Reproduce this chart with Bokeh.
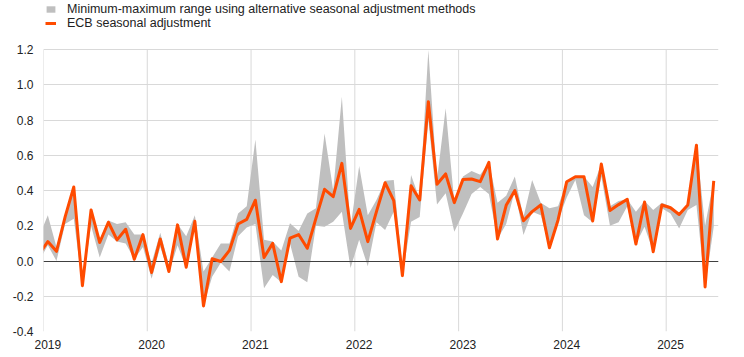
import numpy as np
from bokeh.plotting import figure
from bokeh.models import (Range1d, FixedTicker, Legend, LegendItem)
from bokeh.embed import file_html
from bokeh.resources import INLINE

# Monthly values, Dec 2018 .. Jun 2025 (first point lies just left of the axis start)
first_month = "2018-12"
ecb = [0.04, 0.11, 0.055, 0.25, 0.42, -0.14, 0.29, 0.105, 0.22, 0.12, 0.18, 0.01, 0.15,
       -0.065, 0.125, -0.06, 0.205, -0.035, 0.225, -0.255, 0.013, -0.003, 0.06, 0.21, 0.236,
       0.345, 0.02, 0.10, -0.117, 0.13, 0.15, 0.072, 0.242, 0.407, 0.365, 0.554, 0.185,
       0.293, 0.11, 0.28, 0.444, 0.342, -0.083, 0.427, 0.346, 0.904, 0.435, 0.494, 0.331,
       0.463, 0.465, 0.45, 0.56, 0.125, 0.316, 0.40, 0.228, 0.28, 0.318, 0.075, 0.233,
       0.45, 0.478, 0.478, 0.227, 0.55, 0.286, 0.32, 0.35, 0.096, 0.335, 0.052, 0.318,
       0.302, 0.264, 0.318, 0.657, -0.147, 0.455]
range_min = [0.00, 0.09, 0.00, 0.21, 0.24, -0.14, 0.20, 0.02, 0.15, 0.11, 0.10, 0.01, 0.08,
             -0.10, 0.08, -0.07, 0.09, -0.04, 0.20, -0.255, -0.09, -0.01, -0.06, 0.14, 0.19,
             0.21, -0.155, -0.08, -0.12, 0.10, -0.09, -0.12, 0.20, 0.195, 0.223, 0.28, -0.04,
             0.12, -0.03, 0.22, 0.176, 0.28, -0.083, 0.223, 0.25, 0.80, 0.32, 0.384, 0.166,
             0.27, 0.38, 0.42, 0.38, 0.125, 0.21, 0.40, 0.147, 0.28, 0.26, 0.075, 0.23,
             0.36, 0.46, 0.26, 0.22, 0.48, 0.20, 0.22, 0.31, 0.096, 0.195, 0.052, 0.30,
             0.27, 0.185, 0.29, 0.318, -0.147, 0.195]
range_max = [0.14, 0.26, 0.08, 0.26, 0.42, -0.11, 0.29, 0.12, 0.23, 0.21, 0.22, 0.15, 0.15,
             -0.01, 0.16, -0.02, 0.21, 0.14, 0.26, -0.06, 0.02, 0.10, 0.10, 0.27, 0.31,
             0.69, 0.12, 0.11, 0.06, 0.214, 0.17, 0.27, 0.30, 0.724, 0.40, 0.932, 0.19,
             0.539, 0.26, 0.346, 0.455, 0.46, -0.04, 0.488, 0.35, 1.197, 0.46, 0.866, 0.335,
             0.48, 0.51, 0.49, 0.56, 0.33, 0.37, 0.48, 0.25, 0.46, 0.33, 0.30, 0.31,
             0.45, 0.48, 0.48, 0.42, 0.55, 0.31, 0.34, 0.35, 0.28, 0.34, 0.29, 0.33,
             0.31, 0.27, 0.32, 0.66, 0.20, 0.46]
years = ["2019", "2020", "2021", "2022", "2023", "2024", "2025"]
y_ticks = [-0.4, -0.2, 0.0, 0.2, 0.4, 0.6, 0.8, 1.0, 1.2]

legend_band = "Minimum-maximum range using alternative seasonal adjustment methods"
legend_line = "ECB seasonal adjustment"

# month index: 0 = Jan 2019 (data plotted mid-month)
x = np.arange(len(ecb)) - 1

FONT = "Liberation Sans"
TXT = "#222222"
GRID = "#d9d9d9"

# extra headroom above the top tick holds the legend
px_per_unit = 176.25
top_space = 49
p = figure(width=736, height=357, output_backend="svg", toolbar_location=None,
           x_range=Range1d(-0.5, 77.55),
           y_range=Range1d(y_ticks[0], y_ticks[-1] + top_space / px_per_unit),
           min_border_left=43, min_border_right=18, min_border_top=0, min_border_bottom=26)
p.outline_line_color = None
p.background_fill_color = "white"
p.border_fill_color = "white"

year_pos = [12 * i for i in range(len(years))]
grid_x = [pos - 0.5 for pos in year_pos]
p.segment(x0=grid_x, y0=[y_ticks[0]] * len(grid_x), x1=grid_x, y1=[y_ticks[-1]] * len(grid_x),
          line_color=GRID, line_width=1)

band = p.varea(x=x, y1=range_min, y2=range_max, fill_color="#bfbfbf", fill_alpha=1.0)
p.hspan(y=[0], line_color="#404040", line_width=1)
line = p.line(x=x, y=ecb, line_color="#ff4b00", line_width=3, line_join="round")

# axes
p.xaxis.ticker = FixedTicker(ticks=year_pos)
p.xaxis.major_label_overrides = {pos: lab for pos, lab in zip(year_pos, years)}
p.yaxis.ticker = FixedTicker(ticks=y_ticks)
p.yaxis.major_label_overrides = {t: f"{t:.1f}" for t in y_ticks}
for ax in (p.xaxis[0], p.yaxis[0]):
    ax.axis_line_color = None
    ax.major_tick_line_color = None
    ax.minor_tick_line_color = None
    ax.major_tick_in = 0
    ax.major_tick_out = 0
    ax.major_label_text_font = FONT
    ax.major_label_text_font_size = "12px"
    ax.major_label_text_color = TXT
p.yaxis.major_label_standoff = 10
p.xaxis.major_label_standoff = 8

p.xgrid.grid_line_color = None
p.ygrid.ticker = FixedTicker(ticks=y_ticks)
p.ygrid.grid_line_color = GRID
p.ygrid.grid_line_width = 1

legend = Legend(items=[LegendItem(label=legend_band, renderers=[band]),
                       LegendItem(label=legend_line, renderers=[line])],
                location="top_left", orientation="vertical",
                glyph_width=11, glyph_height=8, label_standoff=11,
                label_height=12, spacing=0, padding=2, margin=0,
                label_text_font=FONT, label_text_font_size="12.5px",
                label_text_color=TXT, border_line_alpha=0,
                background_fill_alpha=0)
p.add_layout(legend, "center")

open("out.html", "w").write(file_html(p, INLINE))
